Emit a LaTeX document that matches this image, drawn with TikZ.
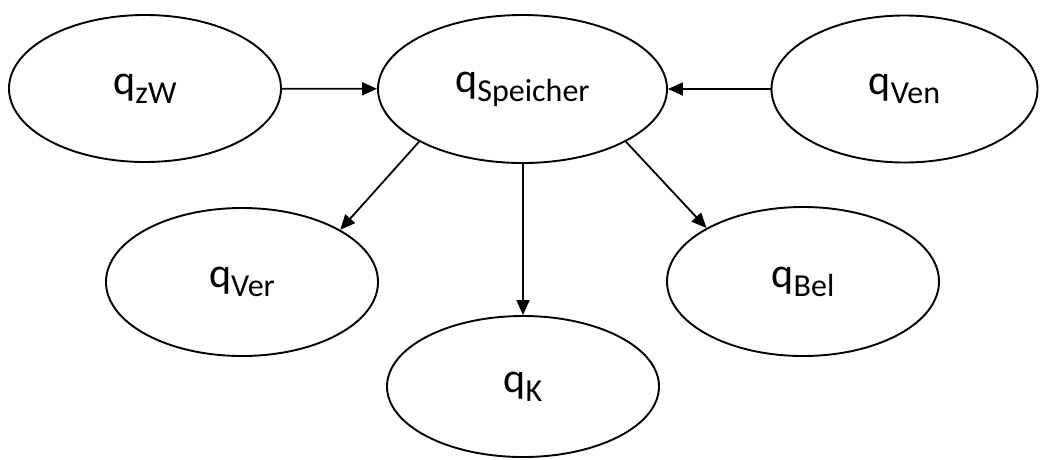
\documentclass[tikz,border=0pt]{standalone}
\usepackage{fontspec}
\setmainfont{Carlito}
\usetikzlibrary{shapes.geometric,arrows.meta}
\newcommand{\qsub}[1]{\fontsize{42}{42}\selectfont q\raisebox{-9pt}{\fontsize{32}{32}\selectfont #1}}
\begin{document}
\begin{tikzpicture}[x=1pt,y=-1pt,
  stnode/.style={ellipse,draw=black,line width=1.9pt,inner sep=0pt,minimum width=272pt,minimum height=147pt},
  conn/.style={line width=1.8pt,-{Triangle[length=15pt,width=13pt]}}]
\useasboundingbox (0,0) rectangle (1040,459);
\node[stnode] (zw) at (145,88.5) {\qsub{zW}};
\node[stnode,minimum width=289pt,minimum height=148pt] (sp) at (522.5,89) {\qsub{Speicher}};
\node[stnode,minimum width=266pt] (ven) at (904.5,89) {\qsub{Ven}};
\node[stnode,minimum height=148pt] (ver) at (242,282) {\qsub{Ver}};
\node[stnode,minimum height=149pt] (bel) at (803,281.5) {\qsub{Bel}};
\node[stnode,minimum height=141pt] (k) at (523,386.5) {\qsub{K}};
\draw[conn] (zw) -- (sp);
\draw[conn] (ven) -- (sp);
\draw[conn] (sp.207) -- (ver.28.5);
\draw[conn] (sp.333.5) -- (bel.151.5);
\draw[conn] (sp.south -| k.north) -- (k.north);
\end{tikzpicture}
\end{document}
